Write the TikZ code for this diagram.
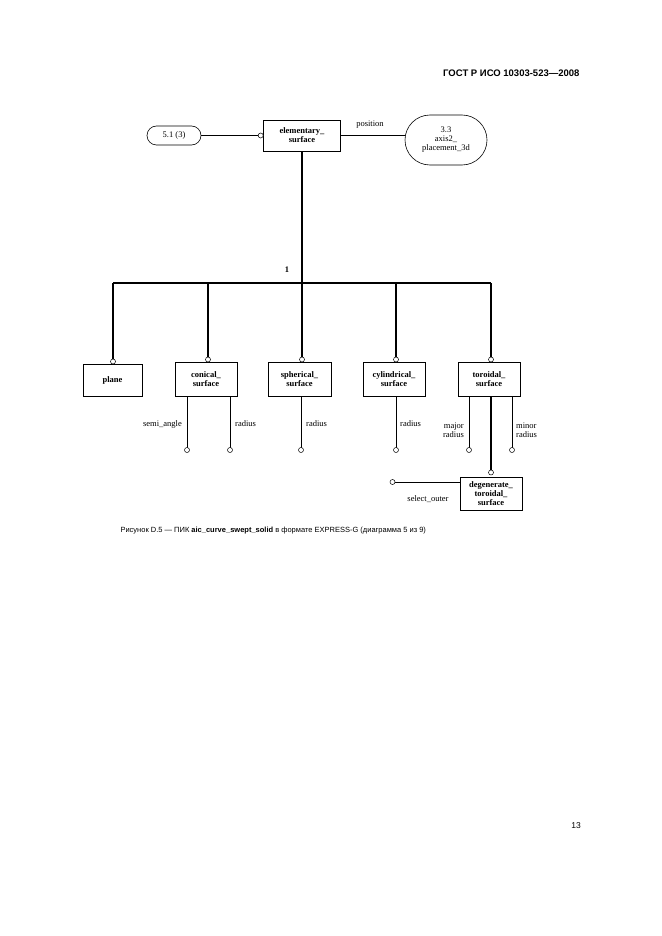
\documentclass[tikz,border=0pt]{standalone}
\usepackage{fontspec}
\setmainfont{Liberation Serif}
\newfontfamily\sansf{Liberation Sans}
\usetikzlibrary{shapes.misc}
\begin{document}
\begin{tikzpicture}[x=1pt,y=-1pt,
  ent/.style={draw,line width=0.6pt,font=\fontsize{8.5}{9}\selectfont\bfseries,align=center,inner sep=0pt},
  pill/.style={draw,rounded rectangle,line width=0.6pt,font=\fontsize{8.5}{9}\selectfont,align=center,inner sep=0pt},
  thin/.style={line width=0.5pt},
  thk/.style={line width=1.3pt},
  oc/.style={draw,circle,fill=white,line width=0.5pt,inner sep=0pt,minimum size=5pt},
  lab/.style={font=\fontsize{8.5}{9}\selectfont,align=center,inner sep=0pt}]
\useasboundingbox (0,0) rectangle (661,936);
\node[anchor=east,font=\sansf\bfseries\fontsize{9.5}{10}\selectfont] (hdr) at (583,73) {ГОСТ Р ИСО 10303-523—2008};

\node[pill,minimum width=54pt,minimum height=19pt] (p51) at (174,135.5) {5.1 (3)};
\node[ent,minimum width=77pt,minimum height=31pt] (es) at (302,135.5) {elementary\_\\surface};
\node[pill,minimum width=82pt,minimum height=50pt] (p33) at (446,140) {3.3\\axis2\_\\placement\_3d};
\draw[thin] (p51.east) -- ([xshift=-5pt]es.west);
\node[oc] (c0) at ([xshift=-2.5pt]es.west) {};
\coordinate (pe) at (405,135.5);
\draw[thin] (es.east) -- (pe);
\node[lab] (lpos) at (370,125) {position};

\coordinate (bus) at (302,283);
\draw[thk] (es.south) -- (bus);
\node[lab,font=\bfseries\fontsize{8.5}{9}\selectfont] (one) at (287,270) {1};

\node[ent,minimum width=59pt,minimum height=32pt] (pl) at (112.5,380) {plane};
\node[ent,minimum width=62pt,minimum height=34pt] (co) at (206,379) {conical\_\\surface};
\node[ent,minimum width=63pt,minimum height=34pt] (sp) at (299.5,379) {spherical\_\\surface};
\node[ent,minimum width=62pt,minimum height=34pt] (cy) at (394,379) {cylindrical\_\\surface};
\node[ent,minimum width=62pt,minimum height=34pt] (to) at (489,379) {toroidal\_\\surface};
\node[ent,minimum width=62pt,minimum height=33pt] (dg) at (491,493.5) {degenerate\_\\toroidal\_\\surface};

\coordinate (bl) at (113,283); \coordinate (br) at (491,283);
\draw[thk] (bl) -- (br);
\foreach \x/\y in {113/361.5,208/359.5,302/359.5,396/359.5,491/359.5}{
  \draw[thk] (\x,283) -- (\x,\y);
  \node[oc] at (\x,\y) {};
}
\foreach \x in {187,230,301,396,469,512}{
  \draw[thin] (\x,396) -- (\x,447.5);
  \node[oc] at (\x,450) {};
}
\node[lab,anchor=east] at (182,424) {semi\_angle};
\node[lab,anchor=west] at (235,424) {radius};
\node[lab,anchor=west] at (306,424) {radius};
\node[lab,anchor=west] at (400,424) {radius};
\node[lab,anchor=east,align=right] at (464,430) {major\\radius};
\node[lab,anchor=west,align=left] at (516,430) {minor\\radius};
\coordinate (ts) at (491,396);
\coordinate (dt) at (491,470);
\draw[thk] (ts) -- (dt);
\node[oc] at (491,472.5) {};
\coordinate (so) at (395,482);
\coordinate (dw) at (460,482);
\draw[thin] (dw) -- (so);
\node[oc] at (392.5,482) {};
\node[lab] at (428,499) {select\_outer};

\node[anchor=west,font=\sansf\fontsize{7.5}{8}\selectfont] (cap) at (117,531) {Рисунок D.5 — ПИК \textbf{aic\_curve\_swept\_solid} в формате EXPRESS-G (диаграмма 5 из 9)};
\node[font=\sansf\fontsize{8.5}{9}\selectfont] (pg) at (576,826) {13};
\end{tikzpicture}
\end{document}
